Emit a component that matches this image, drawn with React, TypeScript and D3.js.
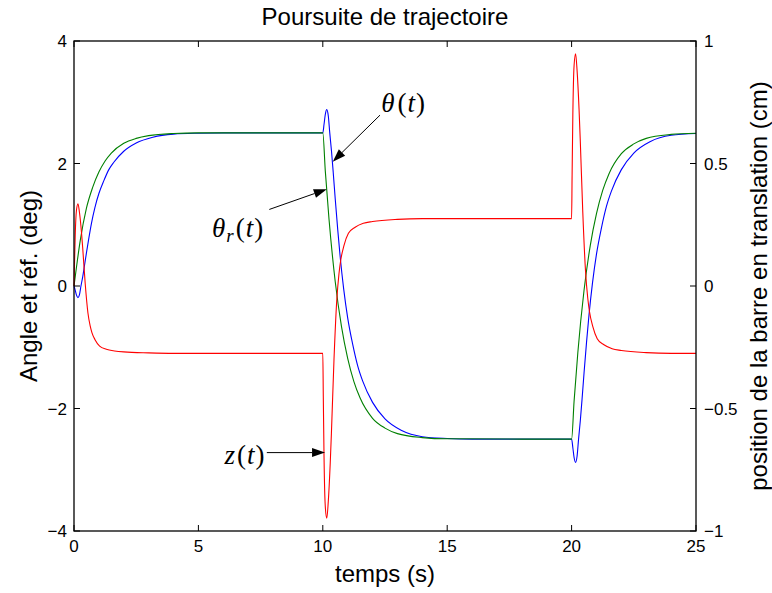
import React from 'react';
import * as d3 from 'd3';

// ---- data ----
const xTicks = [0, 5, 10, 15, 20, 25];
const yLeftTicks = [-4, -2, 0, 2, 4];
const yRightTicks = [-1, -0.5, 0, 0.5, 1];

const title = 'Poursuite de trajectoire';
const xLabel = 'temps (s)';
const yLeftLabel = 'Angle et réf. (deg)';
const yRightLabel = 'position de la barre en translation (cm)';

// theta_r(t) reference (deg), green
const thetaRef: [number, number][] = [
  [0, 0], [0.1, 0.31], [0.25, 0.74], [0.5, 1.27], [0.75, 1.61], [1, 1.86], [1.25, 2.04], [1.5, 2.17],
  [2, 2.33], [2.5, 2.41], [3, 2.455], [4, 2.49], [5, 2.5], [10, 2.5],
  [10.1, 1.88], [10.25, 1.09], [10.5, 0.07], [10.75, -0.66], [11, -1.18], [11.25, -1.56], [11.5, -1.83],
  [12, -2.16], [12.5, -2.32], [13, -2.41], [14, -2.475], [15, -2.495], [20, -2.5],
  [20.1, -1.88], [20.25, -1.09], [20.5, -0.07], [20.75, 0.66], [21, 1.18], [21.25, 1.56], [21.5, 1.83],
  [22, 2.16], [22.5, 2.32], [23, 2.41], [24, 2.475], [25, 2.495],
];

// theta(t) measured angle (deg), blue
const theta: [number, number][] = [
  [0, 0], [0.05, -0.07], [0.1, -0.15], [0.16, -0.19], [0.22, -0.14], [0.28, 0], [0.35, 0.15], [0.42, 0.33],
  [0.5, 0.54], [0.6, 0.79], [0.7, 1.02], [0.84, 1.28], [1, 1.51], [1.2, 1.72], [1.4, 1.9], [1.6, 2.02],
  [2, 2.2], [2.5, 2.335], [3.17, 2.43], [4, 2.48], [5, 2.495], [6, 2.5], [10, 2.5],
  [10.05, 2.64], [10.1, 2.8], [10.16, 2.88], [10.22, 2.78], [10.28, 2.5], [10.35, 2.2], [10.42, 1.85],
  [10.5, 1.42], [10.6, 0.92], [10.7, 0.47], [10.84, -0.05], [11, -0.52], [11.2, -0.95], [11.4, -1.3],
  [11.6, -1.55], [12, -1.9], [12.5, -2.17], [13.17, -2.36], [14, -2.46], [15, -2.49], [16, -2.5], [20, -2.5],
  [20.05, -2.64], [20.1, -2.8], [20.16, -2.88], [20.22, -2.78], [20.28, -2.5], [20.35, -2.2], [20.42, -1.85],
  [20.5, -1.42], [20.6, -0.92], [20.7, -0.47], [20.84, 0.05], [21, 0.52], [21.2, 0.95], [21.4, 1.3],
  [21.6, 1.55], [22, 1.9], [22.5, 2.17], [23.17, 2.36], [24, 2.46], [25, 2.49],
];

// z(t) bar position (cm), red, right axis
const zPos: [number, number][] = [
  [0, 0], [0.02, 0.09], [0.05, 0.21], [0.1, 0.31], [0.16, 0.336], [0.22, 0.3], [0.3, 0.22], [0.35, 0.155],
  [0.45, 0.01], [0.56, -0.11], [0.65, -0.163], [0.72, -0.19], [0.85, -0.22], [1.03, -0.245], [1.3, -0.258],
  [1.63, -0.265], [2, -0.269], [3, -0.273], [4, -0.275], [10, -0.275],
  [10.02, -0.45], [10.05, -0.7], [10.1, -0.9], [10.16, -0.948], [10.22, -0.88], [10.3, -0.72], [10.35, -0.59],
  [10.45, -0.3], [10.56, -0.06], [10.65, 0.05], [10.72, 0.105], [10.85, 0.165], [11.03, 0.215], [11.3, 0.24],
  [11.63, 0.256], [12, 0.263], [13, 0.272], [14, 0.275], [20, 0.275],
  [20.02, 0.45], [20.05, 0.7], [20.1, 0.9], [20.16, 0.948], [20.22, 0.88], [20.3, 0.72], [20.35, 0.59],
  [20.45, 0.3], [20.56, 0.06], [20.65, -0.05], [20.72, -0.105], [20.85, -0.165], [21.03, -0.215], [21.3, -0.24],
  [21.63, -0.256], [22, -0.263], [23, -0.272], [24, -0.275], [25, -0.275],
];

// annotations in data units (left axis): arrow tail, arrow tip, text anchor
const annotations = [
  { key: 'theta', tail: [12.3, 2.79], tip: [10.4, 2.03], text: [12.35, 2.84], anchor: 'start' },
  { key: 'thetar', tail: [7.85, 1.25], tip: [10.16, 1.58], text: [5.55, 0.8], anchor: 'start' },
  { key: 'z', tail: [7.75, -2.72], tip: [10.09, -2.72], text: [7.7, -2.9], anchor: 'end' },
];

const W = 772;
const H = 593;
const PL = 74, PR = 696, PT = 41, PB = 531;

const sans = '"Liberation Sans", Arial, Helvetica, sans-serif';
const serif = '"Liberation Serif", "Times New Roman", serif';

export default function App() {
  const x = d3.scaleLinear().domain([0, 25]).range([PL, PR]);
  const yL = d3.scaleLinear().domain([-4, 4]).range([PB, PT]);
  const yR = d3.scaleLinear().domain([-1, 1]).range([PB, PT]);

  const lineL = d3.line<[number, number]>().x(d => x(d[0])).y(d => yL(d[1])).curve(d3.curveMonotoneX);
  const lineR = d3.line<[number, number]>().x(d => x(d[0])).y(d => yR(d[1])).curve(d3.curveMonotoneX);

  const fmt = (v: number) => String(v).replace('-', '\u2212');
  const tick = 6;

  const arrow = (tail: number[], tip: number[]) => {
    const x1 = x(tail[0]), y1 = yL(tail[1]), x2 = x(tip[0]), y2 = yL(tip[1]);
    const dx = x2 - x1, dy = y2 - y1;
    const len = Math.hypot(dx, dy);
    const ux = dx / len, uy = dy / len;
    const hl = 13, hw = 4.5;
    const bx = x2 - ux * hl, by = y2 - uy * hl;
    const pts = [[x2, y2], [bx - uy * hw, by + ux * hw], [bx + uy * hw, by - ux * hw]];
    return (
      <g>
        <line x1={x1} y1={y1} x2={bx} y2={by} stroke="#000" strokeWidth={1} />
        <polygon points={pts.map(p => p.join(',')).join(' ')} fill="#000" />
      </g>
    );
  };

  const renderLabel = (key: string) => {
    if (key === 'theta') {
      return (<>
        <tspan fontStyle="italic">θ</tspan><tspan dx={2}>(</tspan><tspan fontStyle="italic">t</tspan><tspan>)</tspan>
      </>);
    }
    if (key === 'thetar') {
      return (<>
        <tspan fontStyle="italic">θ</tspan><tspan fontStyle="italic" fontSize={19} dy={5}>r</tspan>
        <tspan dy={-5} dx={1}>(</tspan><tspan fontStyle="italic">t</tspan><tspan>)</tspan>
      </>);
    }
    return (<>
      <tspan fontStyle="italic">z</tspan><tspan dx={1}>(</tspan><tspan fontStyle="italic">t</tspan><tspan>)</tspan>
    </>);
  };

  return (
    <svg width={W} height={H} style={{ position: 'absolute', left: 0, top: 0, background: '#fff' }}>
      <rect x={0} y={0} width={W} height={H} fill="#fff" />
      {/* data */}
      <path d={lineL(theta) || ''} fill="none" stroke="#0000ff" strokeWidth={1.1} />
      <path d={lineL(thetaRef) || ''} fill="none" stroke="#008000" strokeWidth={1.1} />
      <path d={lineR(zPos) || ''} fill="none" stroke="#ff0000" strokeWidth={1.1} />

      {/* box */}
      <rect x={PL} y={PT} width={PR - PL} height={PB - PT} fill="none" stroke="#000" strokeWidth={1.3} />

      {/* x ticks */}
      {xTicks.map(t => (
        <g key={'x' + t}>
          <line x1={x(t)} x2={x(t)} y1={PB} y2={PB - tick} stroke="#000" />
          <line x1={x(t)} x2={x(t)} y1={PT} y2={PT + tick} stroke="#000" />
          <text x={x(t)} y={PB + 21} textAnchor="middle" fontFamily={sans} fontSize={17}>{fmt(t)}</text>
        </g>
      ))}
      {/* left ticks */}
      {yLeftTicks.map(v => (
        <g key={'yl' + v}>
          <line x1={PL} x2={PL + tick} y1={yL(v)} y2={yL(v)} stroke="#000" />
          <text x={PL - 7} y={yL(v) + 6} textAnchor="end" fontFamily={sans} fontSize={17}>{fmt(v)}</text>
        </g>
      ))}
      {/* right ticks */}
      {yRightTicks.map(v => (
        <g key={'yr' + v}>
          <line x1={PR} x2={PR - tick} y1={yR(v)} y2={yR(v)} stroke="#000" />
          <text x={PR + 8} y={yR(v) + 6} textAnchor="start" fontFamily={sans} fontSize={17}>{fmt(v)}</text>
        </g>
      ))}

      {/* titles */}
      <text x={(PL + PR) / 2} y={25} textAnchor="middle" fontFamily={sans} fontSize={24}>{title}</text>
      <text x={(PL + PR) / 2} y={582} textAnchor="middle" fontFamily={sans} fontSize={24}>{xLabel}</text>
      <text transform={`translate(37,${(PT + PB) / 2}) rotate(-90)`} textAnchor="middle" fontFamily={sans} fontSize={24}>{yLeftLabel}</text>
      <text transform={`translate(767,${(PT + PB) / 2}) rotate(-90)`} textAnchor="middle" fontFamily={sans} fontSize={24}>{yRightLabel}</text>

      {/* annotations */}
      {annotations.map(a => (
        <g key={a.key}>
          {arrow(a.tail, a.tip)}
          <text x={x(a.text[0])} y={yL(a.text[1])} textAnchor={a.anchor as any} fontFamily={serif} fontSize={27} letterSpacing={1}>
            {renderLabel(a.key)}
          </text>
        </g>
      ))}
    </svg>
  );
}
